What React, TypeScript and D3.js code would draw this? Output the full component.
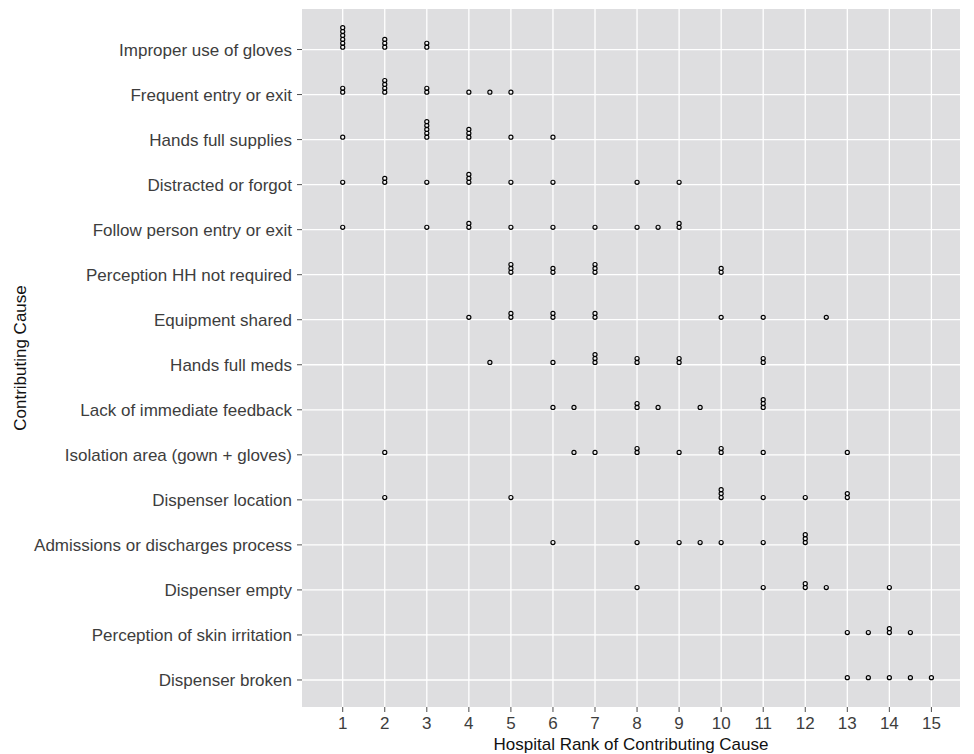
import React from "react";
import * as d3 from "d3";

// contributing causes, top to bottom
const causes = [
  "Improper use of gloves",
  "Frequent entry or exit",
  "Hands full supplies",
  "Distracted or forgot",
  "Follow person entry or exit",
  "Perception HH not required",
  "Equipment shared",
  "Hands full meds",
  "Lack of immediate feedback",
  "Isolation area (gown + gloves)",
  "Dispenser location",
  "Admissions or discharges process",
  "Dispenser empty",
  "Perception of skin irritation",
  "Dispenser broken",
];

// ranks given by each hospital, one list per cause (same order as above)
const ranks: number[][] = [
  [1, 1, 1, 1, 1, 1, 2, 2, 2, 3, 3],
  [1, 1, 2, 2, 2, 2, 3, 3, 4, 4.5, 5],
  [1, 3, 3, 3, 3, 3, 4, 4, 4, 5, 6],
  [1, 2, 2, 3, 4, 4, 4, 5, 6, 8, 9],
  [1, 3, 4, 4, 5, 6, 7, 8, 8.5, 9, 9],
  [5, 5, 5, 6, 6, 7, 7, 7, 10, 10],
  [4, 5, 5, 6, 6, 7, 7, 10, 11, 12.5],
  [4.5, 6, 7, 7, 7, 8, 8, 9, 9, 11, 11],
  [6, 6.5, 8, 8, 8.5, 9.5, 11, 11, 11],
  [2, 6.5, 7, 8, 8, 9, 10, 10, 11, 13],
  [2, 5, 10, 10, 10, 11, 12, 13, 13],
  [6, 8, 9, 9.5, 10, 11, 12, 12, 12],
  [8, 11, 12, 12, 12.5, 14],
  [13, 13.5, 14, 14, 14.5],
  [13, 13.5, 14, 14.5, 15],
];

const xTicks = d3.range(1, 16);

const W = 974;
const H = 754;
const panel = { left: 302, right: 960, top: 9, bottom: 707 };
const font = "'Liberation Sans', Arial, Helvetica, sans-serif";

const App = () => {
  const x = d3.scaleLinear().domain([0.032, 15.68]).range([panel.left, panel.right]);
  const y = d3.scaleLinear().domain([-0.9, 14.6]).range([panel.top, panel.bottom]);

  const r = 2.05;
  const step = 3.9; // vertical offset between stacked dots

  // stack duplicates upward from the baseline
  const dots: { cx: number; cy: number; key: string }[] = [];
  ranks.forEach((list, i) => {
    const seen = new Map<number, number>();
    list.forEach((v, j) => {
      const k = seen.get(v) ?? 0;
      seen.set(v, k + 1);
      dots.push({ cx: x(v), cy: y(i) - r - 0.3 - k * step, key: `${i}-${j}` });
    });
  });

  return (
    <div style={{ position: "absolute", left: 0, top: 0 }}>
      <svg width={W} height={H} style={{ display: "block", background: "#fff" }}>
        <rect
          x={panel.left}
          y={panel.top}
          width={panel.right - panel.left}
          height={panel.bottom - panel.top}
          fill="#DEDEE0"
        />
        {/* grid */}
        {xTicks.map((t) => (
          <line key={"gx" + t} x1={x(t)} x2={x(t)} y1={panel.top} y2={panel.bottom} stroke="#fff" strokeWidth={1.3} />
        ))}
        {causes.map((c, i) => (
          <line key={"gy" + i} x1={panel.left} x2={panel.right} y1={y(i)} y2={y(i)} stroke="#fff" strokeWidth={1.3} />
        ))}
        {/* dots */}
        {dots.map((d) => (
          <circle key={d.key} cx={d.cx} cy={d.cy} r={r} fill="none" stroke="#000" strokeWidth={1.15} />
        ))}
        {/* y axis */}
        {causes.map((c, i) => (
          <g key={"ya" + i}>
            <line x1={panel.left - 5} x2={panel.left} y1={y(i)} y2={y(i)} stroke="#4d4d4d" strokeWidth={1} />
            <text
              x={panel.left - 10}
              y={y(i)}
              dy="0.36em"
              textAnchor="end"
              fontFamily={font}
              fontSize={17}
              fill="#3d3d3d"
            >
              {c}
            </text>
          </g>
        ))}
        {/* x axis */}
        {xTicks.map((t) => (
          <g key={"xa" + t}>
            <line x1={x(t)} x2={x(t)} y1={panel.bottom} y2={panel.bottom + 5} stroke="#4d4d4d" strokeWidth={1} />
            <text x={x(t)} y={729} textAnchor="middle" fontFamily={font} fontSize={17} fill="#3d3d3d">
              {t}
            </text>
          </g>
        ))}
        <text
          x={(panel.left + panel.right) / 2}
          y={750}
          textAnchor="middle"
          fontFamily={font}
          fontSize={17}
          fill="#111"
        >
          Hospital Rank of Contributing Cause
        </text>
        <text
          transform={`translate(26, ${(panel.top + panel.bottom) / 2}) rotate(-90)`}
          textAnchor="middle"
          fontFamily={font}
          fontSize={17}
          fill="#111"
        >
          Contributing Cause
        </text>
      </svg>
    </div>
  );
};

export default App;
